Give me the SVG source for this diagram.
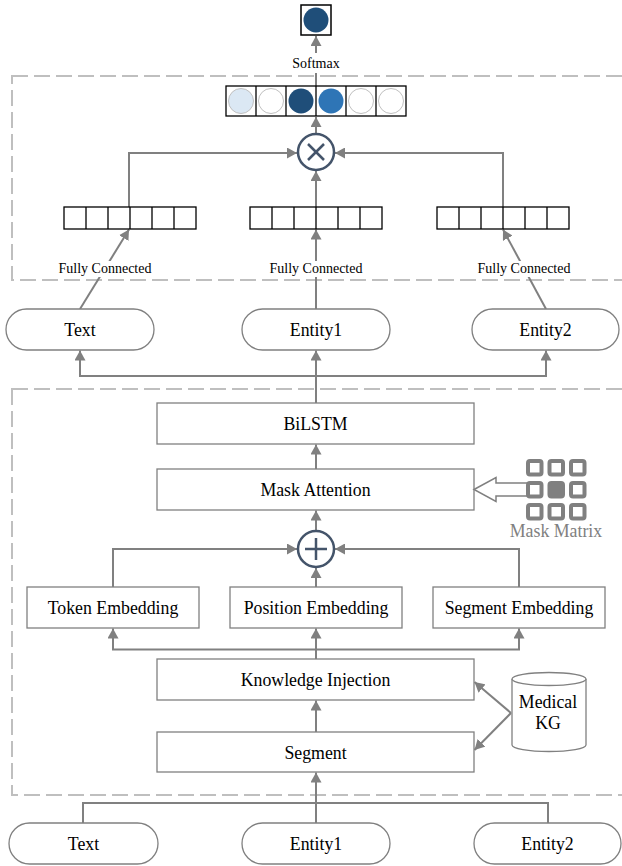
<svg xmlns="http://www.w3.org/2000/svg" width="622" height="866" viewBox="0 0 622 866">
<style>
.dash{fill:none;stroke:#bfbfbf;stroke-width:2;stroke-dasharray:16 6}
.cn{fill:none;stroke:#808080;stroke-width:2}
.box{fill:#fff;stroke:#808080;stroke-width:1.3}
.vec{fill:#fff;stroke:#000;stroke-width:1.3}
.t{font-family:"Liberation Serif","Times New Roman",serif;font-size:17.8px;fill:#000;text-anchor:middle}
.s{font-family:"Liberation Serif","Times New Roman",serif;font-size:14px;fill:#000;text-anchor:middle}
.op{fill:#fff;stroke:#44546a;stroke-width:2.5}
.opl{stroke:#44546a;stroke-width:2.5}
.cl{stroke:#c0c0c0;stroke-width:1}
.mm{fill:#fff;stroke:#808080;stroke-width:4}
.mmf{fill:#808080;stroke:#808080;stroke-width:4}
</style>
<defs>
<marker id="ah" markerUnits="userSpaceOnUse" markerWidth="11" markerHeight="11" refX="10" refY="5.5" orient="auto">
<path d="M0,0 L10,5.5 L0,11 z" fill="#808080"/>
</marker>
</defs>
<rect class="dash" x="12" y="76" width="614" height="204"/>
<rect class="dash" x="12" y="389" width="614" height="406"/>
<g id="connectors">
<line class="cn" x1="316" y1="86" x2="316" y2="36" marker-end="url(#ah)"/>
<line class="cn" x1="316" y1="134" x2="316" y2="117" marker-end="url(#ah)"/>
<polyline class="cn" points="129,207 129,153 297,153" marker-end="url(#ah)"/>
<polyline class="cn" points="503,207 503,153 335,153" marker-end="url(#ah)"/>
<line class="cn" x1="316" y1="207" x2="316" y2="171" marker-end="url(#ah)"/>
<line class="cn" x1="80" y1="309" x2="129" y2="229.5" marker-end="url(#ah)"/>
<line class="cn" x1="316" y1="309" x2="316" y2="229.5" marker-end="url(#ah)"/>
<line class="cn" x1="546" y1="309" x2="503" y2="229.5" marker-end="url(#ah)"/>
<line class="cn" x1="316" y1="403" x2="316" y2="350.5" marker-end="url(#ah)"/>
<line class="cn" x1="79" y1="376" x2="547" y2="376"/>
<line class="cn" x1="80" y1="376" x2="80" y2="350.5" marker-end="url(#ah)"/>
<line class="cn" x1="546" y1="376" x2="546" y2="350.5" marker-end="url(#ah)"/>
<line class="cn" x1="316" y1="469" x2="316" y2="444.5" marker-end="url(#ah)"/>
<line class="cn" x1="316" y1="531" x2="316" y2="510.5" marker-end="url(#ah)"/>
<line class="cn" x1="316" y1="587" x2="316" y2="568" marker-end="url(#ah)"/>
<polyline class="cn" points="113,587 113,549 297,549" marker-end="url(#ah)"/>
<polyline class="cn" points="519,587 519,549 335,549" marker-end="url(#ah)"/>
<line class="cn" x1="316" y1="659" x2="316" y2="628.5" marker-end="url(#ah)"/>
<line class="cn" x1="112" y1="649.5" x2="520" y2="649.5"/>
<line class="cn" x1="113" y1="649.5" x2="113" y2="628.5" marker-end="url(#ah)"/>
<line class="cn" x1="519" y1="649.5" x2="519" y2="628.5" marker-end="url(#ah)"/>
<line class="cn" x1="316" y1="732" x2="316" y2="700.5" marker-end="url(#ah)"/>
<line class="cn" x1="511" y1="713" x2="474.5" y2="682" marker-end="url(#ah)"/>
<line class="cn" x1="511" y1="713" x2="474.5" y2="750" marker-end="url(#ah)"/>
<line class="cn" x1="316" y1="823" x2="316" y2="772.5" marker-end="url(#ah)"/>
<path class="cn" d="M83,823 V803 H548 V823"/>
<rect x="288" y="53" width="56" height="20" fill="#fff"/>
<text class="s" x="316" y="67.5">Softmax</text>
<rect x="57" y="261" width="96" height="16" fill="#fff"/>
<text class="s" x="105" y="273">Fully Connected</text>
<rect x="268" y="261" width="96" height="16" fill="#fff"/>
<text class="s" x="316" y="273">Fully Connected</text>
<rect x="476" y="261" width="96" height="16" fill="#fff"/>
<text class="s" x="524" y="273">Fully Connected</text>
</g>
<g id="output">
<rect x="301" y="5" width="30" height="30" fill="#fff" stroke="#000" stroke-width="1.5"/>
<circle cx="316" cy="20" r="12.5" fill="#1f4e79"/>
</g>
<g id="score-vector">
<rect class="vec" x="226" y="86" width="180" height="30"/>
<line class="vec" x1="256" y1="86" x2="256" y2="116"/>
<line class="vec" x1="286" y1="86" x2="286" y2="116"/>
<line class="vec" x1="316" y1="86" x2="316" y2="116"/>
<line class="vec" x1="346" y1="86" x2="346" y2="116"/>
<line class="vec" x1="376" y1="86" x2="376" y2="116"/>
<circle class="cl" cx="241" cy="101" r="12.5" fill="#dbe8f4"/>
<circle class="cl" cx="271" cy="101" r="12.5" fill="#fff"/>
<circle cx="301" cy="101" r="12.5" fill="#1f4e79"/>
<circle cx="331" cy="101" r="12.5" fill="#2e75b6"/>
<circle class="cl" cx="361" cy="101" r="12.5" fill="#fff"/>
<circle class="cl" cx="391" cy="101" r="12.5" fill="#fff"/>
</g>
<g id="multiply">
<circle class="op" cx="316" cy="152" r="18"/>
<line class="opl" x1="308" y1="144" x2="324" y2="160"/>
<line class="opl" x1="324" y1="144" x2="308" y2="160"/>
</g>
<g id="vec-text">
<rect class="vec" x="64" y="207" width="132" height="22"/>
<path class="vec" d="M86,207V229M108,207V229M130,207V229M152,207V229M174,207V229"/>
</g>
<g id="vec-entity1">
<rect class="vec" x="250" y="207" width="132" height="22"/>
<path class="vec" d="M272,207V229M294,207V229M316,207V229M338,207V229M360,207V229"/>
</g>
<g id="vec-entity2">
<rect class="vec" x="437" y="207" width="132" height="22"/>
<path class="vec" d="M459,207V229M481,207V229M503,207V229M525,207V229M547,207V229"/>
</g>
<g id="text-top">
<rect class="box" x="6" y="309" width="148" height="41" rx="20.5"/>
<text class="t" x="80" y="336">Text</text>
</g>
<g id="entity1-top">
<rect class="box" x="242" y="309" width="148" height="41" rx="20.5"/>
<text class="t" x="316" y="336">Entity1</text>
</g>
<g id="entity2-top">
<rect class="box" x="472" y="309" width="147" height="41" rx="20.5"/>
<text class="t" x="545.5" y="336">Entity2</text>
</g>
<g id="bilstm">
<rect class="box" x="157" y="403" width="317" height="41"/>
<text class="t" x="315.5" y="430">BiLSTM</text>
</g>
<g id="mask-attention">
<rect class="box" x="157" y="469" width="317" height="41"/>
<text class="t" x="315.5" y="496">Mask Attention</text>
</g>
<g id="mask-matrix">
<polygon points="474,489.5 496,477.5 496,483 528,483 528,496 496,496 496,501.5" fill="#fff" stroke="#808080" stroke-width="1.5"/>
<rect class="mm" x="528" y="461" width="13.5" height="13.5" rx="2"/>
<rect class="mm" x="549.5" y="461" width="13.5" height="13.5" rx="2"/>
<rect class="mm" x="571" y="461" width="13.5" height="13.5" rx="2"/>
<rect class="mm" x="528" y="483" width="13.5" height="13.5" rx="2"/>
<rect class="mmf" x="549.5" y="483" width="13.5" height="13.5" rx="2"/>
<rect class="mm" x="571" y="483" width="13.5" height="13.5" rx="2"/>
<rect class="mm" x="528" y="505" width="13.5" height="13.5" rx="2"/>
<rect class="mm" x="549.5" y="505" width="13.5" height="13.5" rx="2"/>
<rect class="mm" x="571" y="505" width="13.5" height="13.5" rx="2"/>
<text class="t" x="556" y="537" style="fill:#808080">Mask Matrix</text>
</g>
<g id="add">
<circle class="op" cx="316" cy="549" r="18"/>
<line class="opl" x1="305" y1="549" x2="327" y2="549"/>
<line class="opl" x1="316" y1="538" x2="316" y2="560"/>
</g>
<g id="token-embedding">
<rect class="box" x="27" y="587" width="172" height="41"/>
<text class="t" x="113" y="614">Token Embedding</text>
</g>
<g id="position-embedding">
<rect class="box" x="230" y="587" width="172" height="41"/>
<text class="t" x="316" y="614">Position Embedding</text>
</g>
<g id="segment-embedding">
<rect class="box" x="433" y="587" width="172" height="41"/>
<text class="t" x="519" y="614">Segment Embedding</text>
</g>
<g id="knowledge-injection">
<rect class="box" x="157" y="659" width="317" height="41"/>
<text class="t" x="315.5" y="686">Knowledge Injection</text>
</g>
<g id="segment">
<rect class="box" x="157" y="732" width="317" height="40"/>
<text class="t" x="315.5" y="758.5">Segment</text>
</g>
<g id="medical-kg">
<path d="M512,679 V745 A37,6.5 0 0 0 586,745 V679" fill="#fff" stroke="#808080" stroke-width="1.3"/>
<ellipse cx="549" cy="679" rx="37" ry="6.5" fill="#fff" stroke="#808080" stroke-width="1.3"/>
<text class="t" x="548" y="708">Medical</text>
<text class="t" x="548" y="729">KG</text>
</g>
<g id="text-bottom">
<rect class="box" x="9" y="823" width="149" height="41" rx="20.5"/>
<text class="t" x="83.5" y="850">Text</text>
</g>
<g id="entity1-bottom">
<rect class="box" x="242" y="823" width="148" height="41" rx="20.5"/>
<text class="t" x="316" y="850">Entity1</text>
</g>
<g id="entity2-bottom">
<rect class="box" x="474" y="823" width="147" height="41" rx="20.5"/>
<text class="t" x="547.5" y="850">Entity2</text>
</g>
</svg>
